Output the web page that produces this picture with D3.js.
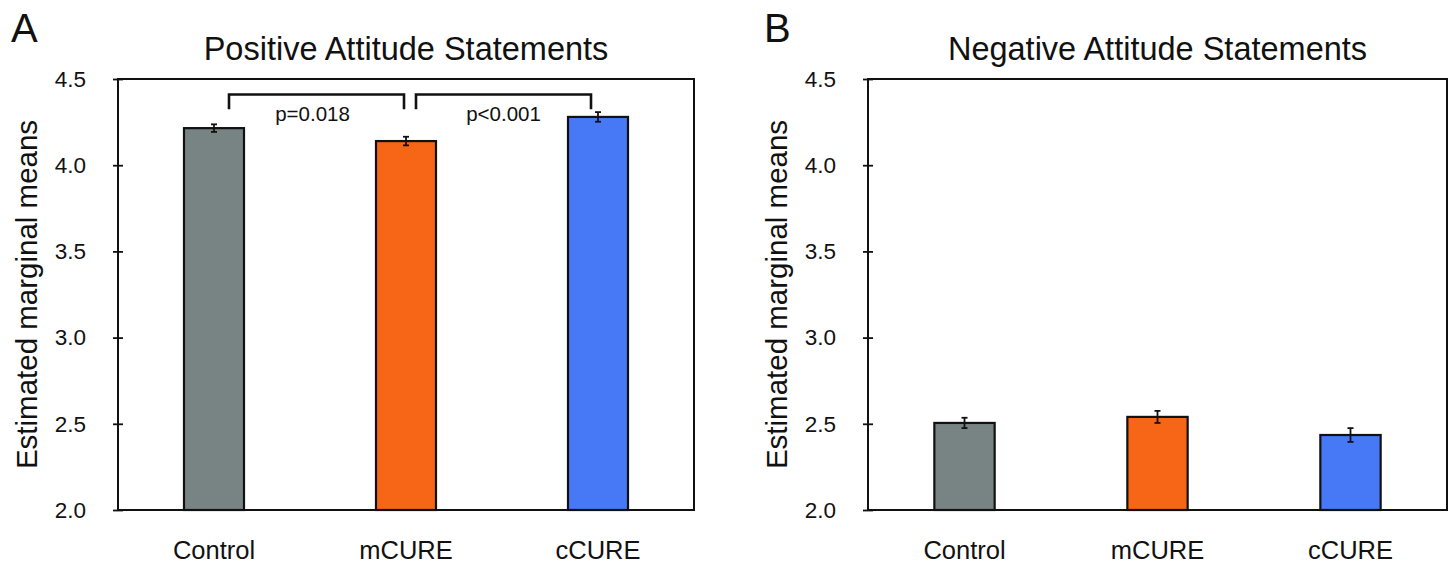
<!DOCTYPE html>
<html><head><meta charset="utf-8">
<script src="https://cdn.jsdelivr.net/npm/d3@7"></script>
<style>
html,body{margin:0;padding:0;background:#fff;}
text{font-family:"Liberation Sans",Arial,sans-serif;fill:#111;}
</style></head>
<body>
<svg id="chart" width="1451" height="564"></svg>
<script>
const categories = ["Control", "mCURE", "cCURE"];
const positiveMeans = [4.215, 4.14, 4.28];
const positiveErr = [0.022, 0.025, 0.028];
const negativeMeans = [2.505, 2.54, 2.435];
const negativeErr = [0.03, 0.035, 0.04];
const yTicks = [2.0, 2.5, 3.0, 3.5, 4.0, 4.5];
const barColors = ["#788484", "#f76516", "#4779f6"];
const comparisons = [
  {from: "Control", to: "mCURE", label: "p=0.018"},
  {from: "mCURE", to: "cCURE", label: "p<0.001"}
];
const panels = [
  {letter: "A", title: "Positive Attitude Statements", means: positiveMeans, err: positiveErr, comps: comparisons,
   left: 118, right: 694, letterX: 11},
  {letter: "B", title: "Negative Attitude Statements", means: negativeMeans, err: negativeErr, comps: [],
   left: 868, right: 1447, letterX: 764}
];
const plotTop = 79, plotBottom = 510;
const svg = d3.select("#chart");

panels.forEach(p => {
  const g = svg.append("g");
  const x = d3.scaleBand().domain(categories).range([p.left, p.right]).paddingInner(0.6875).paddingOuter(0.34375);
  const y = d3.scaleLinear().domain([2.0, 4.5]).range([plotBottom, plotTop]);

  // bars
  g.selectAll("rect.bar").data(categories).join("rect")
    .attr("x", d => x(d)).attr("width", x.bandwidth())
    .attr("y", (d, i) => y(p.means[i])).attr("height", (d, i) => y(2.0) - y(p.means[i]))
    .attr("fill", (d, i) => barColors[i]).attr("stroke", "#111").attr("stroke-width", 2.2);

  // error bars
  const cx = d => x(d) + x.bandwidth() / 2;
  categories.forEach((c, i) => {
    const y1 = y(p.means[i] + p.err[i]), y2 = y(p.means[i] - p.err[i]);
    g.append("line").attr("x1", cx(c)).attr("x2", cx(c)).attr("y1", y1).attr("y2", y2)
      .attr("stroke", "#111").attr("stroke-width", 1.8);
    [y1, y2].forEach(yy => g.append("line").attr("x1", cx(c) - 3).attr("x2", cx(c) + 3)
      .attr("y1", yy).attr("y2", yy).attr("stroke", "#111").attr("stroke-width", 1.8));
  });

  // frame
  g.append("rect").attr("x", p.left).attr("y", plotTop).attr("width", p.right - p.left).attr("height", plotBottom - plotTop)
    .attr("fill", "none").attr("stroke", "#111").attr("stroke-width", 2);

  // y axis
  const yAxis = d3.axisLeft(y).tickValues(yTicks).tickFormat(d3.format(".1f")).tickSizeInner(5).tickSizeOuter(0).tickPadding(27);
  const ya = g.append("g").attr("transform", `translate(${p.left},0)`).call(yAxis);
  ya.select(".domain").remove();
  ya.selectAll(".tick line").attr("x2", 5).attr("x1", -5).attr("stroke", "#111").attr("stroke-width", 1.8);
  ya.selectAll(".tick text").attr("font-size", 22.5).attr("fill", "#111");

  // x axis labels
  const xAxis = d3.axisBottom(x).tickSize(0).tickPadding(31);
  const xa = g.append("g").attr("transform", `translate(0,${plotBottom})`).call(xAxis);
  xa.select(".domain").remove();
  xa.selectAll(".tick text").attr("font-size", 25.5).attr("fill", "#111");

  // y axis title
  g.append("text").attr("transform", `translate(${p.left - 81},${(plotTop + plotBottom) / 2}) rotate(-90)`)
    .attr("text-anchor", "middle").attr("font-size", 29.5).text("Estimated marginal means");

  // title
  g.append("text").attr("x", (p.left + p.right) / 2).attr("y", 60).attr("text-anchor", "middle")
    .attr("font-size", 32.5).text(p.title);

  // panel letter
  g.append("text").attr("x", p.letterX).attr("y", 42).attr("font-size", 40).text(p.letter);

  // comparison brackets
  p.comps.forEach((c, k) => {
    const xa1 = cx(c.from) + (k === 0 ? 15 : 10);
    const xa2 = cx(c.to) - (k === 0 ? 2 : 7);
    const yTop = y(4.41), yEnd = y(4.325);
    g.append("path").attr("d", `M${xa1},${yEnd}V${yTop}H${xa2}V${yEnd}`)
      .attr("fill", "none").attr("stroke", "#111").attr("stroke-width", 2.6);
    g.append("text").attr("x", (xa1 + xa2) / 2 - (k === 0 ? 4 : 0)).attr("y", 121).attr("text-anchor", "middle")
      .attr("font-size", 20.5).text(c.label);
  });
});
</script>
</body></html>
